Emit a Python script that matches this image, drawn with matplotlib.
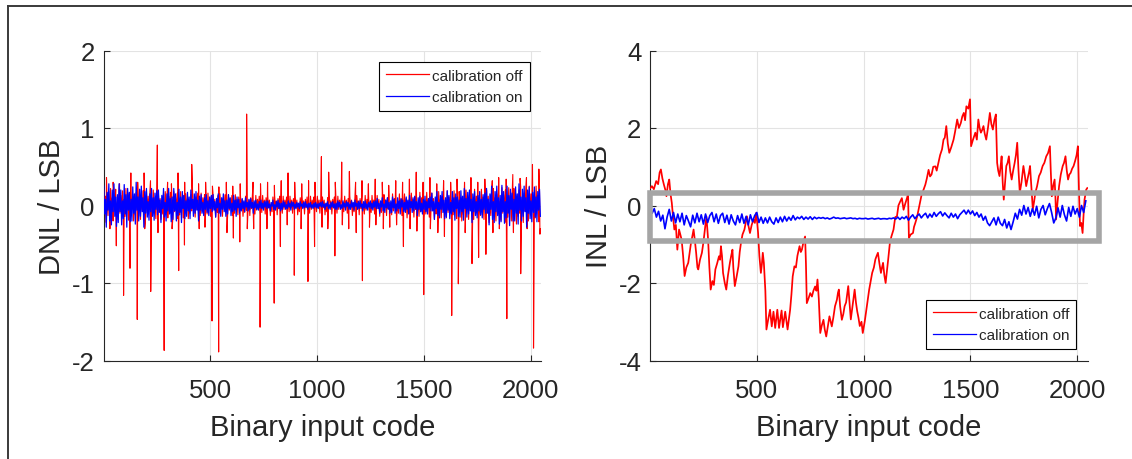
import numpy as np
import matplotlib
matplotlib.use("Agg")
import matplotlib.pyplot as plt
from matplotlib.patches import Rectangle
from matplotlib.lines import Line2D

# ---------------- data ----------------
legend_labels = ["calibration off", "calibration on"]
x_ticks = [500, 1000, 1500, 2000]
dnl_yticks = [-2, -1, 0, 1, 2]
inl_yticks = [-4, -2, 0, 2, 4]

# DNL, calibration off: base band (one value every 4 codes, starting at code 1)
dnl_off_band = [
    0.2,-0.06,0.12,-0.22,0.04,-0.13,0.18,-0.09,0.22,-0.03,0.1,-0.2,0.15,-0.07,0.21,-0.12,
    0.05,-0.18,0.22,-0.1,0.13,-0.04,0.19,-0.21,0.08,-0.14,0.22,-0.05,0.11,-0.19,0.16,-0.08,
    0.18,-0.05,0.1,-0.2,0.03,-0.12,0.17,-0.08,0.2,-0.03,0.09,-0.18,0.13,-0.06,0.19,-0.11,
    0.04,-0.16,0.2,-0.09,0.12,-0.04,0.17,-0.19,0.07,-0.13,0.2,-0.05,0.1,-0.17,0.14,-0.07,
    0.16,-0.05,0.09,-0.18,0.03,-0.11,0.15,-0.07,0.18,-0.03,0.08,-0.16,0.12,-0.05,0.17,-0.1,
    0.04,-0.15,0.18,-0.08,0.11,-0.03,0.16,-0.17,0.06,-0.12,0.18,-0.04,0.09,-0.16,0.13,-0.06,
    0.15,-0.04,0.09,-0.17,0.03,-0.1,0.14,-0.07,0.17,-0.02,0.08,-0.15,0.11,-0.05,0.16,-0.09,
    0.03,-0.13,0.16,-0.07,0.1,-0.03,0.14,-0.15,0.06,-0.11,0.16,-0.04,0.09,-0.14,0.12,-0.06,
    0.14,-0.04,0.08,-0.15,0.02,-0.09,0.13,-0.06,0.15,-0.02,0.07,-0.14,0.1,-0.04,0.14,-0.08,
    0.03,-0.12,0.14,-0.06,0.09,-0.03,0.13,-0.13,0.05,-0.1,0.14,-0.03,0.08,-0.12,0.11,-0.05,
    0.13,-0.04,0.08,-0.14,0.02,-0.09,0.12,-0.06,0.14,-0.02,0.07,-0.13,0.1,-0.04,0.13,-0.08,
    0.03,-0.11,0.13,-0.06,0.08,-0.02,0.12,-0.12,0.05,-0.09,0.13,-0.03,0.07,-0.11,0.1,-0.05,
    0.12,-0.03,0.07,-0.13,0.02,-0.08,0.11,-0.05,0.13,-0.02,0.06,-0.12,0.09,-0.04,0.12,-0.07,
    0.02,-0.1,0.12,-0.05,0.07,-0.02,0.11,-0.11,0.04,-0.08,0.12,-0.03,0.07,-0.1,0.09,-0.04,
    0.11,-0.03,0.07,-0.12,0.02,-0.08,0.1,-0.05,0.12,-0.02,0.06,-0.11,0.08,-0.03,0.11,-0.07,
    0.02,-0.1,0.12,-0.05,0.07,-0.02,0.11,-0.11,0.04,-0.08,0.12,-0.03,0.07,-0.1,0.09,-0.04,
    0.11,-0.03,0.07,-0.12,0.02,-0.08,0.1,-0.05,0.12,-0.02,0.06,-0.11,0.08,-0.03,0.11,-0.07,
    0.03,-0.1,0.12,-0.05,0.07,-0.02,0.11,-0.11,0.04,-0.08,0.12,-0.03,0.07,-0.1,0.09,-0.04,
    0.12,-0.03,0.07,-0.13,0.02,-0.08,0.11,-0.05,0.13,-0.02,0.06,-0.12,0.09,-0.04,0.12,-0.07,
    0.03,-0.11,0.13,-0.06,0.08,-0.02,0.12,-0.12,0.05,-0.09,0.13,-0.03,0.07,-0.11,0.1,-0.05,
    0.13,-0.04,0.08,-0.14,0.02,-0.09,0.12,-0.06,0.14,-0.02,0.07,-0.13,0.1,-0.04,0.13,-0.08,
    0.03,-0.12,0.15,-0.07,0.09,-0.03,0.14,-0.14,0.05,-0.1,0.15,-0.03,0.08,-0.13,0.11,-0.05,
    0.15,-0.04,0.09,-0.16,0.03,-0.1,0.14,-0.07,0.16,-0.02,0.08,-0.15,0.11,-0.05,0.15,-0.09,
    0.04,-0.14,0.17,-0.08,0.1,-0.03,0.15,-0.16,0.06,-0.11,0.17,-0.04,0.09,-0.15,0.12,-0.06,
    0.16,-0.05,0.09,-0.18,0.03,-0.11,0.15,-0.07,0.18,-0.03,0.08,-0.16,0.12,-0.05,0.17,-0.1,
    0.04,-0.16,0.19,-0.09,0.11,-0.03,0.17,-0.18,0.07,-0.12,0.19,-0.04,0.1,-0.17,0.13,-0.06,
    0.18,-0.05,0.1,-0.2,0.03,-0.12,0.17,-0.08,0.2,-0.03,0.09,-0.18,0.13,-0.06,0.19,-0.11,
    0.04,-0.18,0.21,-0.1,0.12,-0.04,0.18,-0.2,0.07,-0.13,0.21,-0.05,0.11,-0.18,0.14,-0.07,
    0.2,-0.06,0.12,-0.22,0.04,-0.13,0.18,-0.09,0.22,-0.03,0.1,-0.2,0.15,-0.07,0.21,-0.12,
    0.05,-0.19,0.23,-0.1,0.14,-0.04,0.2,-0.22,0.08,-0.15,0.23,-0.05,0.12,-0.2,0.16,-0.08,
    0.22,-0.06,0.13,-0.24,0.04,-0.14,0.2,-0.1,0.24,-0.03,0.11,-0.22,0.16,-0.07,0.23,-0.13,
    0.05,-0.2,0.25,-0.11,0.15,-0.05,0.21,-0.23,0.09,-0.16,0.25,-0.06,0.13,-0.21,0.17,-0.3,
]
# DNL, calibration off: individual spikes (code, LSB)
dnl_off_spikes = [
    (14,0.36),(45,0.3),(75,0.28),(128,0.42),(160,0.3),(190,0.42),(220,0.32),(252,0.78),
    (300,0.3),(318,0.28),(349,0.42),(380,0.3),(413,0.53),(445,0.28),(478,0.3),(510,0.25),
    (540,0.24),(575,0.3),(605,0.25),(640,0.28),(670,1.18),(700,0.3),(735,0.28),(768,0.3),
    (800,0.26),(832,0.32),(864,0.42),(895,0.3),(928,0.28),(960,0.32),(990,0.3),(1020,0.63),
    (1054,0.43),(1085,0.3),(1115,0.56),(1151,0.44),(1180,0.3),(1210,0.32),(1240,0.28),
    (1272,0.34),(1305,0.3),(1335,0.26),(1368,0.32),(1400,0.3),(1432,0.34),(1464,0.43),
    (1496,0.3),(1528,0.36),(1560,0.28),(1592,0.32),(1625,0.3),(1655,0.34),(1690,0.3),
    (1720,0.36),(1752,0.3),(1785,0.34),(1820,0.32),(1850,0.36),(1885,0.34),(1916,0.4),
    (1950,0.35),(1980,0.36),(2008,0.53),(2038,0.47),
    (60,-0.52),(94,-1.16),(124,-0.81),(158,-1.47),(221,-1.11),(284,-1.87),(352,-0.84),
    (379,-0.51),(508,-1.49),(539,-1.89),(608,-0.42),(638,-0.47),(733,-1.57),(799,-1.26),
    (828,-0.53),(893,-0.9),(957,-0.98),(988,-0.53),(1083,-0.65),(1183,-0.35),(1212,-0.97),
    (1404,-0.53),(1499,-1.15),(1596,-0.4),(1630,-1.42),(1661,-1.01),(1725,-0.75),
    (1756,-0.67),(1790,-0.63),(1888,-1.46),(1953,-0.88),(2013,-1.84),(2043,-0.37),
    (30,-0.3),(193,-0.3),(255,-0.35),(321,-0.3),(448,-0.3),(475,-0.28),(578,-0.35),
    (673,-0.3),(703,-0.3),(765,-0.3),(860,-0.25),(925,-0.3),(1023,-0.28),(1050,-0.3),
    (1118,-0.25),(1148,-0.3),(1245,-0.28),(1275,-0.25),(1310,-0.3),(1340,-0.28),
    (1372,-0.25),(1435,-0.3),(1467,-0.33),(1530,-0.3),(1565,-0.35),(1693,-0.35),
    (1823,-0.35),(1853,-0.3),(1919,-0.35),(1983,-0.3),
]

# DNL, calibration on (one value every 4 codes, starting at code 1)
dnl_on_band = [
    0.25,-0.11,0.08,-0.28,0.17,-0.06,0.28,-0.2,0.06,-0.25,0.2,-0.08,0.28,-0.14,0.11,-0.27,
    0.14,-0.22,0.28,-0.08,0.2,-0.25,0.06,-0.17,0.27,-0.11,0.14,-0.28,0.22,-0.06,0.17,-0.21,
    0.08,-0.2,0.24,-0.1,0.15,-0.24,0.3,-0.06,0.11,-0.2,0.21,-0.14,0.25,-0.08,0.1,-0.28,
    0.18,-0.1,0.22,-0.15,0.05,-0.19,0.15,-0.08,0.22,-0.14,0.1,-0.19,0.16,-0.05,0.19,-0.12,
    0.2,-0.09,0.07,-0.22,0.13,-0.04,0.22,-0.15,0.04,-0.2,0.15,-0.07,0.22,-0.11,0.09,-0.21,
    0.11,-0.18,0.22,-0.07,0.15,-0.2,0.04,-0.13,0.21,-0.09,0.11,-0.22,0.18,-0.04,0.13,-0.17,
    0.06,-0.14,0.17,-0.07,0.11,-0.17,0.2,-0.04,0.08,-0.14,0.15,-0.1,0.18,-0.06,0.07,-0.2,
    0.12,-0.06,0.14,-0.1,0.04,-0.13,0.1,-0.05,0.14,-0.09,0.06,-0.13,0.11,-0.04,0.13,-0.08,
    0.14,-0.06,0.05,-0.15,0.09,-0.03,0.15,-0.1,0.03,-0.14,0.1,-0.05,0.15,-0.08,0.06,-0.14,
    0.07,-0.11,0.14,-0.04,0.1,-0.13,0.03,-0.08,0.13,-0.06,0.07,-0.14,0.11,-0.03,0.08,-0.1,
    0.03,-0.07,0.09,-0.04,0.06,-0.08,0.1,-0.02,0.04,-0.07,0.08,-0.05,0.09,-0.03,0.04,-0.1,
    0.06,-0.03,0.07,-0.05,0.02,-0.06,0.05,-0.03,0.07,-0.04,0.03,-0.06,0.05,-0.02,0.06,-0.04,
    0.06,-0.03,0.02,-0.07,0.04,-0.01,0.07,-0.05,0.01,-0.06,0.05,-0.02,0.07,-0.04,0.03,-0.07,
    0.03,-0.05,0.06,-0.02,0.04,-0.05,0.01,-0.04,0.06,-0.02,0.03,-0.06,0.05,-0.01,0.04,-0.05,
    0.02,-0.04,0.04,-0.02,0.03,-0.04,0.05,-0.01,0.02,-0.04,0.04,-0.03,0.05,-0.02,0.02,-0.05,
    0.03,-0.02,0.04,-0.03,0.01,-0.04,0.03,-0.02,0.04,-0.03,0.02,-0.04,0.03,-0.01,0.04,-0.02,
    0.05,-0.02,0.02,-0.05,0.03,-0.01,0.05,-0.04,0.01,-0.05,0.04,-0.02,0.05,-0.03,0.02,-0.05,
    0.03,-0.05,0.06,-0.02,0.04,-0.05,0.01,-0.04,0.06,-0.02,0.03,-0.06,0.05,-0.01,0.04,-0.05,
    0.02,-0.05,0.06,-0.02,0.04,-0.06,0.07,-0.01,0.03,-0.05,0.05,-0.04,0.06,-0.02,0.02,-0.07,
    0.05,-0.03,0.06,-0.04,0.02,-0.06,0.04,-0.02,0.06,-0.04,0.03,-0.06,0.05,-0.02,0.06,-0.04,
    0.09,-0.04,0.03,-0.1,0.06,-0.02,0.1,-0.07,0.02,-0.09,0.07,-0.03,0.1,-0.05,0.04,-0.1,
    0.06,-0.09,0.11,-0.03,0.08,-0.1,0.02,-0.07,0.1,-0.04,0.06,-0.11,0.09,-0.02,0.07,-0.08,
    0.04,-0.09,0.11,-0.05,0.07,-0.11,0.13,-0.03,0.05,-0.09,0.1,-0.07,0.12,-0.04,0.05,-0.13,
    0.1,-0.05,0.12,-0.08,0.03,-0.11,0.08,-0.05,0.12,-0.08,0.05,-0.11,0.09,-0.03,0.11,-0.07,
    0.16,-0.07,0.05,-0.18,0.11,-0.04,0.18,-0.13,0.04,-0.16,0.13,-0.05,0.18,-0.09,0.07,-0.17,
    0.1,-0.15,0.19,-0.06,0.13,-0.17,0.04,-0.11,0.18,-0.08,0.1,-0.19,0.15,-0.04,0.11,-0.14,
    0.07,-0.15,0.19,-0.08,0.12,-0.19,0.22,-0.04,0.09,-0.15,0.17,-0.11,0.2,-0.07,0.08,-0.22,
    0.15,-0.08,0.18,-0.13,0.05,-0.16,0.13,-0.07,0.18,-0.12,0.08,-0.16,0.14,-0.05,0.16,-0.1,
    0.22,-0.1,0.08,-0.25,0.15,-0.05,0.25,-0.18,0.05,-0.22,0.18,-0.08,0.25,-0.13,0.1,-0.24,
    0.13,-0.21,0.26,-0.08,0.18,-0.23,0.05,-0.16,0.25,-0.1,0.13,-0.26,0.21,-0.05,0.16,-0.2,
    0.08,-0.2,0.24,-0.1,0.15,-0.24,0.28,-0.06,0.11,-0.2,0.21,-0.14,0.25,-0.08,0.1,-0.28,
    0.2,-0.1,0.24,-0.17,0.06,-0.21,0.17,-0.09,0.24,-0.15,0.11,-0.21,0.18,-0.06,0.21,-0.14,
]

# INL, calibration off: traced vertices (code, LSB)
inl_off_points = [
    (2,0.45),(9,0.5),(18,0.42),(29,0.63),(38,0.55),(45,0.85),(51,0.93),(58,0.7),(65,0.54),
    (72,0.4),(77,0.24),(84,0.55),(90,0.67),(96,0.3),(102,0.07),(108,-0.3),(114,-0.62),
    (121,-0.5),(128,-1.14),(136,-0.62),(142,-0.75),(148,-0.88),(155,-1.3),(162,-1.82),
    (170,-1.6),(179,-1.48),(186,-1.2),(192,-0.96),(198,-0.8),(204,-0.62),(210,-0.9),
    (216,-1.22),(222,-1.6),(226,-1.65),(234,-1.4),(243,-1.22),(250,-0.95),(257,-0.62),
    (264,-0.28),(268,-0.6),(272,-0.88),(278,-1.6),(284,-2.17),(292,-1.95),(299,-2.05),
    (306,-1.65),(314,-1.5),(323,-1.31),(328,-1.4),(332,-1.05),(337,-1.3),(342,-1.74),
    (350,-2.0),(357,-2.17),(365,-1.8),(374,-1.48),(380,-1.3),(386,-1.14),(390,-1.6),
    (397,-2.08),(405,-1.85),(414,-1.57),(420,-1.2),(426,-0.96),(433,-0.75),(442,-0.62),
    (448,-0.45),(454,-0.28),(460,-0.5),(468,-0.71),(476,-0.5),(485,-0.36),(491,-0.45),
    (497,-0.19),(502,-0.45),(506,-0.71),(512,-1.3),(519,-1.74),(524,-1.5),(528,-1.22),
    (533,-1.48),(540,-2.2),(545,-3.2),(553,-2.95),(562,-2.69),(570,-3.12),(578,-2.74),
    (586,-3.16),(596,-2.69),(604,-3.16),(616,-2.71),(622,-3.14),(633,-2.74),(644,-3.2),
    (656,-2.69),(662,-2.3),(668,-1.83),(676,-1.57),(683,-1.6),(690,-1.3),(700,-1.05),
    (706,-1.2),(711,-1.14),(718,-0.95),(726,-0.8),(730,-1.5),(734,-2.52),(742,-2.4),
    (750,-2.26),(758,-2.35),(765,-2.2),(773,-2.09),(779,-2.2),(784,-1.91),(790,-2.4),
    (797,-3.29),(804,-3.1),(812,-2.95),(818,-3.2),(825,-3.38),(833,-3.1),(840,-2.86),
    (846,-3.0),(851,-3.12),(858,-2.9),(866,-2.6),(875,-2.43),(880,-2.25),(884,-2.17),
    (890,-2.6),(898,-2.95),(905,-2.8),(911,-2.6),(918,-2.5),(928,-2.08),(934,-2.5),
    (940,-2.94),(948,-2.6),(958,-2.17),(964,-2.5),(970,-2.73),(976,-2.9),(982,-3.11),
    (990,-3.0),(996,-3.29),(1005,-3.0),(1013,-2.68),(1020,-2.4),(1026,-2.17),(1033,-1.95),
    (1040,-1.74),(1048,-1.6),(1055,-1.39),(1061,-1.3),(1067,-1.22),(1074,-1.5),(1081,-1.74),
    (1086,-1.6),(1091,-1.48),(1097,-1.8),(1103,-2.0),(1109,-1.7),(1115,-1.39),(1123,-0.96),
    (1130,-0.8),(1140,-0.62),(1148,-0.3),(1156,-0.28),(1163,0.0),(1171,0.1),(1179,0.19),
    (1187,-0.11),(1195,0.05),(1203,0.19),(1208,0.3),(1212,-0.84),(1220,-0.75),(1231,-0.71),
    (1236,-0.55),(1242,-0.45),(1250,-0.3),(1257,-0.11),(1265,0.1),(1273,0.32),(1280,0.4),
    (1289,0.54),(1296,0.7),(1304,0.92),(1311,0.75),(1318,0.8),(1326,1.0),(1336,1.01),
    (1342,0.9),(1350,1.1),(1358,1.3),(1367,1.45),(1374,1.7),(1380,1.75),(1387,2.05),
    (1394,1.6),(1401,1.36),(1410,1.5),(1421,1.7),(1428,1.9),(1438,2.22),(1446,2.0),
    (1455,2.13),(1462,2.3),(1469,2.39),(1475,2.2),(1481,2.56),(1490,2.5),(1498,2.74),
    (1503,1.53),(1512,1.7),(1523,1.88),(1530,1.7),(1537,2.22),(1543,2.0),(1549,1.88),
    (1555,1.95),(1561,2.05),(1567,1.85),(1574,1.7),(1582,2.0),(1591,2.39),(1598,2.1),
    (1605,1.96),(1612,2.2),(1619,2.35),(1625,1.1),(1630,0.9),(1636,0.76),(1641,1.0),
    (1646,1.27),(1651,0.6),(1656,0.15),(1662,0.6),(1668,1.02),(1674,1.1),(1680,1.27),
    (1686,0.9),(1693,0.67),(1700,0.9),(1707,1.1),(1713,1.3),(1719,1.62),(1725,0.9),
    (1731,0.33),(1739,0.6),(1748,1.02),(1754,0.8),(1761,0.5),(1768,0.7),(1774,0.85),
    (1779,1.02),(1786,0.4),(1792,-0.1),(1798,0.1),(1804,0.33),(1812,0.5),(1821,0.76),
    (1829,0.85),(1838,1.02),(1846,1.1),(1855,1.27),(1863,1.35),(1872,1.53),(1876,0.9),
    (1881,0.24),(1887,0.5),(1894,0.67),(1898,0.2),(1901,-0.36),(1908,0.1),(1915,0.5),
    (1923,0.8),(1932,1.02),(1938,1.1),(1945,1.27),(1951,0.9),(1957,0.67),(1963,0.8),
    (1969,0.84),(1976,0.95),(1983,1.02),(1990,1.15),(1997,1.3),(2003,1.53),(2008,0.4),
    (2013,-0.53),(2019,-0.45),(2025,-0.71),(2030,-0.2),(2034,0.15),(2042,0.41),(2047,0.45),
]

# INL, calibration on (one value every 10 codes, starting at code 0)
inl_on_values = [
    -0.05,-0.2,-0.08,-0.3,-0.15,-0.4,-0.25,-0.6,-0.3,-0.1,
    -0.4,-0.18,-0.45,-0.22,-0.42,-0.2,-0.5,-0.26,-0.4,-0.55,
    -0.25,-0.45,-0.2,-0.42,-0.24,-0.48,-0.22,-0.44,-0.26,-0.18,
    -0.42,-0.22,-0.46,-0.26,-0.2,-0.44,-0.25,-0.48,-0.24,-0.4,
    -0.5,-0.26,-0.44,-0.22,-0.46,-0.28,-0.5,-0.24,-0.42,-0.26,
    -0.18,-0.44,-0.3,-0.46,-0.32,-0.45,-0.3,-0.42,-0.48,-0.32,
    -0.44,-0.3,-0.42,-0.28,-0.4,-0.3,-0.38,-0.26,-0.37,-0.3,
    -0.34,-0.28,-0.36,-0.3,-0.35,-0.29,-0.36,-0.3,-0.34,-0.31,
    -0.33,-0.31,-0.34,-0.32,-0.35,-0.33,-0.3,-0.33,-0.32,-0.34,
    -0.33,-0.32,-0.34,-0.33,-0.32,-0.34,-0.33,-0.35,-0.33,-0.34,
    -0.34,-0.33,-0.35,-0.34,-0.33,-0.35,-0.34,-0.33,-0.35,-0.34,
    -0.34,-0.35,-0.33,-0.34,-0.32,-0.35,-0.3,-0.36,-0.3,-0.34,
    -0.28,-0.38,-0.3,-0.24,-0.34,-0.27,-0.22,-0.32,-0.25,-0.2,
    -0.32,-0.22,-0.3,-0.18,-0.28,-0.21,-0.16,-0.27,-0.19,-0.26,
    -0.32,-0.2,-0.3,-0.22,-0.34,-0.24,-0.18,-0.12,-0.22,-0.12,
    -0.22,-0.14,-0.26,-0.18,-0.3,-0.22,-0.38,-0.28,-0.45,-0.52,
    -0.42,-0.32,-0.5,-0.3,-0.46,-0.52,-0.36,-0.58,-0.42,-0.62,
    -0.42,-0.2,-0.35,-0.1,-0.25,0.0,-0.22,-0.05,-0.28,-0.08,
    -0.25,-0.02,-0.32,-0.1,0.0,-0.24,-0.08,0.05,-0.18,-0.45,
    -0.32,-0.06,-0.3,0.0,-0.24,-0.4,-0.05,-0.28,-0.02,-0.22,
    -0.08,-0.3,0.0,-0.18,0.12,
]

# highlight box on the INL plot (code range, LSB range)
box_codes = [0, 2104]
box_lsb = [-0.91, 0.33]

# ---------------- styling ----------------
plt.rcParams['font.family'] = ['Liberation Sans', 'DejaVu Sans']
plt.rcParams['axes.unicode_minus'] = False
TXT = '#262626'
GRID = '#e3e3e3'
RED = '#ff0000'
BLUE = '#0000ff'

W, H = 1132, 460
fig = plt.figure(figsize=(W / 100, H / 100), dpi=100)

ax_l = fig.add_axes([103.5 / W, 1 - 361.5 / H, 437.5 / W, 310 / H])
ax_r = fig.add_axes([650 / W, 1 - 361.5 / H, 437.5 / W, 310 / H])

# DNL: combine base band and spikes, sorted by code
band_codes = np.arange(len(dnl_off_band)) * 4 + 1
spk = np.array(dnl_off_spikes)
off_c = np.concatenate([band_codes, spk[:, 0]])
off_v = np.concatenate([np.array(dnl_off_band), spk[:, 1]])
order = np.argsort(off_c, kind='stable')
off_c, off_v = off_c[order], off_v[order]
on_codes = np.arange(len(dnl_on_band)) * 4 + 1

ax_l.plot(off_c, off_v, color=RED, lw=0.8, label=legend_labels[0], zorder=3)
ax_l.plot(on_codes, dnl_on_band, color=BLUE, lw=0.9, label=legend_labels[1], zorder=4)

inl_pts = np.array(inl_off_points)
inl_on_codes = np.arange(len(inl_on_values)) * 10
ax_r.plot(inl_pts[:, 0], inl_pts[:, 1], color=RED, lw=1.25, label=legend_labels[0], zorder=3)
ax_r.plot(inl_on_codes, inl_on_values, color=BLUE, lw=1.2, label=legend_labels[1], zorder=4)

for ax, yt, ylab in [(ax_l, dnl_yticks, 'DNL / LSB'), (ax_r, inl_yticks, 'INL / LSB')]:
    ax.set_xlim(0, 2048)
    ax.set_ylim(yt[0], yt[-1])
    ax.set_xticks(x_ticks)
    ax.set_yticks(yt)
    ax.grid(True, color=GRID, lw=0.8, zorder=0)
    ax.set_axisbelow(True)
    for s in ['top', 'right']:
        ax.spines[s].set_visible(False)
    for s in ['left', 'bottom']:
        ax.spines[s].set_color(TXT)
        ax.spines[s].set_linewidth(0.8)
    ax.tick_params(direction='in', length=4, width=0.8, color=TXT,
                   labelsize=18.5, labelcolor=TXT)
    ax.tick_params(axis='x', pad=12.6)
    ax.tick_params(axis='y', pad=6.3)
    ax.set_xlabel('Binary input code', fontsize=21, color=TXT)
    ax.set_ylabel(ylab, fontsize=21, color=TXT)
    ax.xaxis.set_label_coords(0.5, -0.168)
    ax.yaxis.set_label_coords(-0.085, 0.5)

leg_kw = dict(fontsize=11, frameon=True, fancybox=False, edgecolor='black',
              framealpha=1, borderpad=0.45, handlelength=2.8, handletextpad=0.2,
              labelspacing=0.5, borderaxespad=0.75)
lg1 = ax_l.legend(loc='upper right', **leg_kw)
lg2 = ax_r.legend(loc='lower right', **leg_kw)
for lg in (lg1, lg2):
    lg.get_frame().set_linewidth(0.8)
    for ln in lg.get_lines():
        ln.set_linewidth(0.9)
    for t in lg.get_texts():
        t.set_color(TXT)

rect = Rectangle((box_codes[0], box_lsb[0]), box_codes[1] - box_codes[0],
                 box_lsb[1] - box_lsb[0], fill=False, edgecolor='#a5a5a5',
                 lw=4, clip_on=False, zorder=6)
ax_r.add_patch(rect)

# outer frame lines (left and top)
fx = 7.5 / W
fy = 1 - 7 / H
fig.add_artist(Line2D([fx, fx], [0, fy], transform=fig.transFigure, color='#3a3a3a', lw=1.4))
fig.add_artist(Line2D([fx, 1], [fy, fy], transform=fig.transFigure, color='#3a3a3a', lw=1.4))

fig.savefig('out.png', dpi=100, facecolor='white')
